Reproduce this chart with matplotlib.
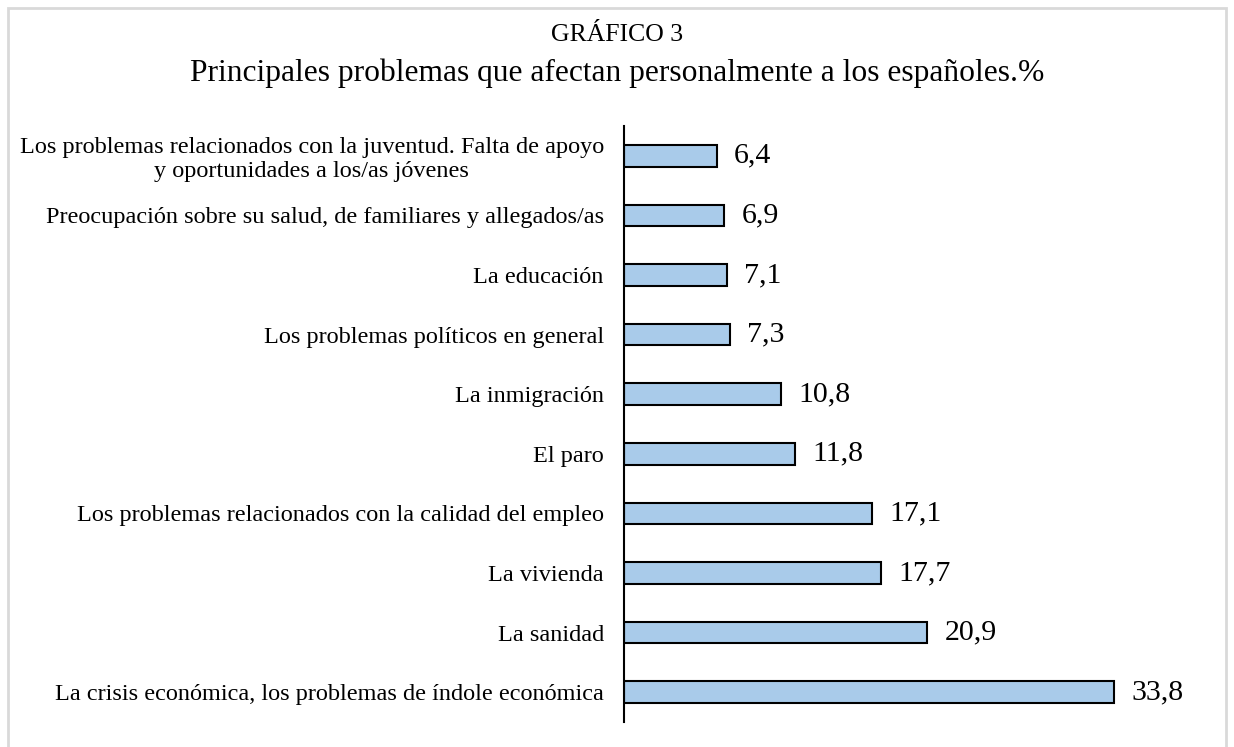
import matplotlib.pyplot as plt
from matplotlib.patches import Rectangle

plt.rcParams['font.family'] = ['Liberation Serif', 'DejaVu Serif']

labels = [
    'La crisis económica, los problemas de índole económica',
    'La sanidad',
    'La vivienda',
    'Los problemas relacionados con la calidad del empleo',
    'El paro',
    'La inmigración',
    'Los problemas políticos en general',
    'La educación',
    'Preocupación sobre su salud, de familiares y allegados/as',
    'Los problemas relacionados con la juventud. Falta de apoyo\ny oportunidades a los/as jóvenes',
]
values = [33.8, 20.9, 17.7, 17.1, 11.8, 10.8, 7.3, 7.1, 6.9, 6.4]

fig = plt.figure(figsize=(12.34, 7.47), dpi=100)
ax = fig.add_axes([624 / 1234, 1 - 722 / 747, 580 / 1234, 596 / 747])

pos = range(len(values))
ax.barh(pos, values, height=0.36, color='#A9CBEA', edgecolor='black', linewidth=1.5)
for p, v in zip(pos, values):
    ax.text(v + 1.2, p, f'{v:.1f}'.replace('.', ','), va='center', ha='left', fontsize=21.5)

ax.set_xlim(0, 40)
ax.set_ylim(-0.5, len(values) - 0.5)
ax.set_yticks(list(pos))
ax.set_yticklabels(labels, fontsize=17.5, ha='right', multialignment='center', linespacing=1.15)
ax.tick_params(axis='y', length=0, pad=14.5)
ax.set_xticks([])
for s in ['top', 'right', 'bottom']:
    ax.spines[s].set_visible(False)
ax.spines['left'].set_linewidth(1.5)

fig.text(0.5, 1 - 35 / 747, 'GRÁFICO 3', ha='center', va='center', fontsize=18.5)
fig.text(0.5, 1 - 73 / 747, 'Principales problemas que afectan personalmente a los españoles.%',
         ha='center', va='center', fontsize=22.7)

fig.patches.append(Rectangle((8 / 1234, -0.01), 1218 / 1234, 1 - 8 / 747 + 0.01,
                             transform=fig.transFigure, fill=False, edgecolor='#d9d9d9', linewidth=2))

fig.savefig('out.png', dpi=100)
